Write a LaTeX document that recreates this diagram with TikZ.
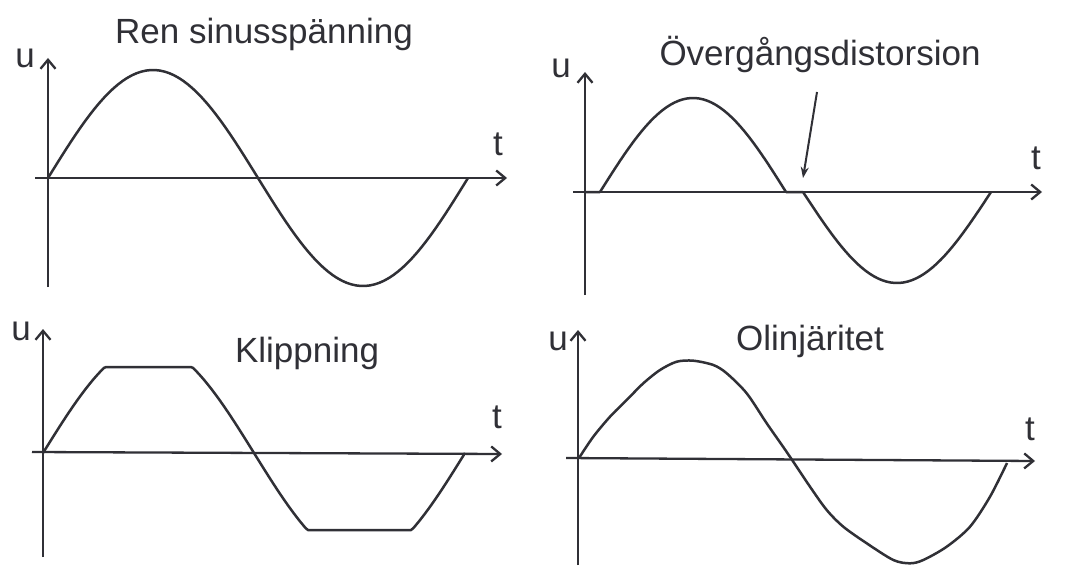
\documentclass[tikz,border=0pt]{standalone}
\usepackage{fontspec}
\setmainfont{Liberation Sans}
\usetikzlibrary{arrows.meta}
\definecolor{ink}{RGB}{48,48,54}

\begin{document}
\begin{tikzpicture}[x=1pt,y=-1pt,line width=2.5pt,color=ink,
  font=\fontsize{35}{40}\selectfont,
  axis/.style={line width=2.3pt,-{Straight Barb[length=9pt,width=15pt,line width=2.3pt]}},
  wave/.style={line width=2.5pt,line join=round},
  lbl/.style={inner sep=0pt,text=ink}]
\useasboundingbox[fill=white] (0,0) rectangle (1067,572);
% Ren sinusspanning
\draw[axis] (48,287)--(48,58);
\draw[axis] (35,178)--(507,178);
\draw[wave] plot[domain=0:360,samples=91] ({48+\x/360*420},{178-108*sin(\x)});
\node[lbl] (tRen) at (264,34) {Ren sinusspänning};
\node[lbl] (u1) at (25,58) {u};
\node[lbl] (t1) at (498,144) {t};
% Overgangsdistorsion
\draw[axis] (585,295)--(585,72);
\draw[axis] (573,192)--(1042,192);
\draw[wave] (585,192)--(600,192) plot[domain=0:180,samples=46] ({600+\x/180*186},{192-94*sin(\x)})
  --(803,192) plot[domain=0:180,samples=46] ({803+\x/180*188},{192+91*sin(\x)});
\node[lbl] (tOverg) at (820,54) {Övergångsdistorsion};
\node[lbl] (u2) at (561,68) {u};
\node[lbl] (t2) at (1036,158) {t};
\coordinate (pS) at (817,92);
\coordinate (pE) at (803,178);
\draw[line width=2pt,-{Stealth[length=11pt,width=8pt]}] (pS)--(pE);
% Klippning
\draw[axis] (43,557)--(43,329);
\draw[axis] (32,452)--(502,454);
\draw[wave] plot[domain=0:360,samples=181] ({43+\x/360*422},{453-max(min(108*sin(\x),86),-77)});
\node[lbl] (tKlipp) at (307,353) {Klippning};
\node[lbl] (u3) at (21,331) {u};
\node[lbl] (t3) at (497,417) {t};
% Olinjaritet
\draw[axis] (578,565)--(578,330);
\draw[axis] (566,458)--(1035,461);
\draw[wave] plot[smooth,tension=.5] coordinates {(579,458) (593.3,436.7) (610,416.7) (626.7,400)
  (643.3,383.3) (660,370) (676.7,361.7) (693.3,360.7) (713.3,365) (726.7,373.3) (746.7,393.3)
  (766.7,423.3) (786.7,452) (810,486.7) (826.7,510) (843.3,526.7) (866.7,543.3) (893.3,560)
  (910,563.3) (923.3,560) (946.7,546.7) (970,526.7) (990,496.7) (1007,463)};
\node[lbl] (tOlin) at (810,341) {Olinjäritet};
\node[lbl] (u4) at (558,341) {u};
\node[lbl] (t4) at (1030,429) {t};
\end{tikzpicture}
\end{document}
